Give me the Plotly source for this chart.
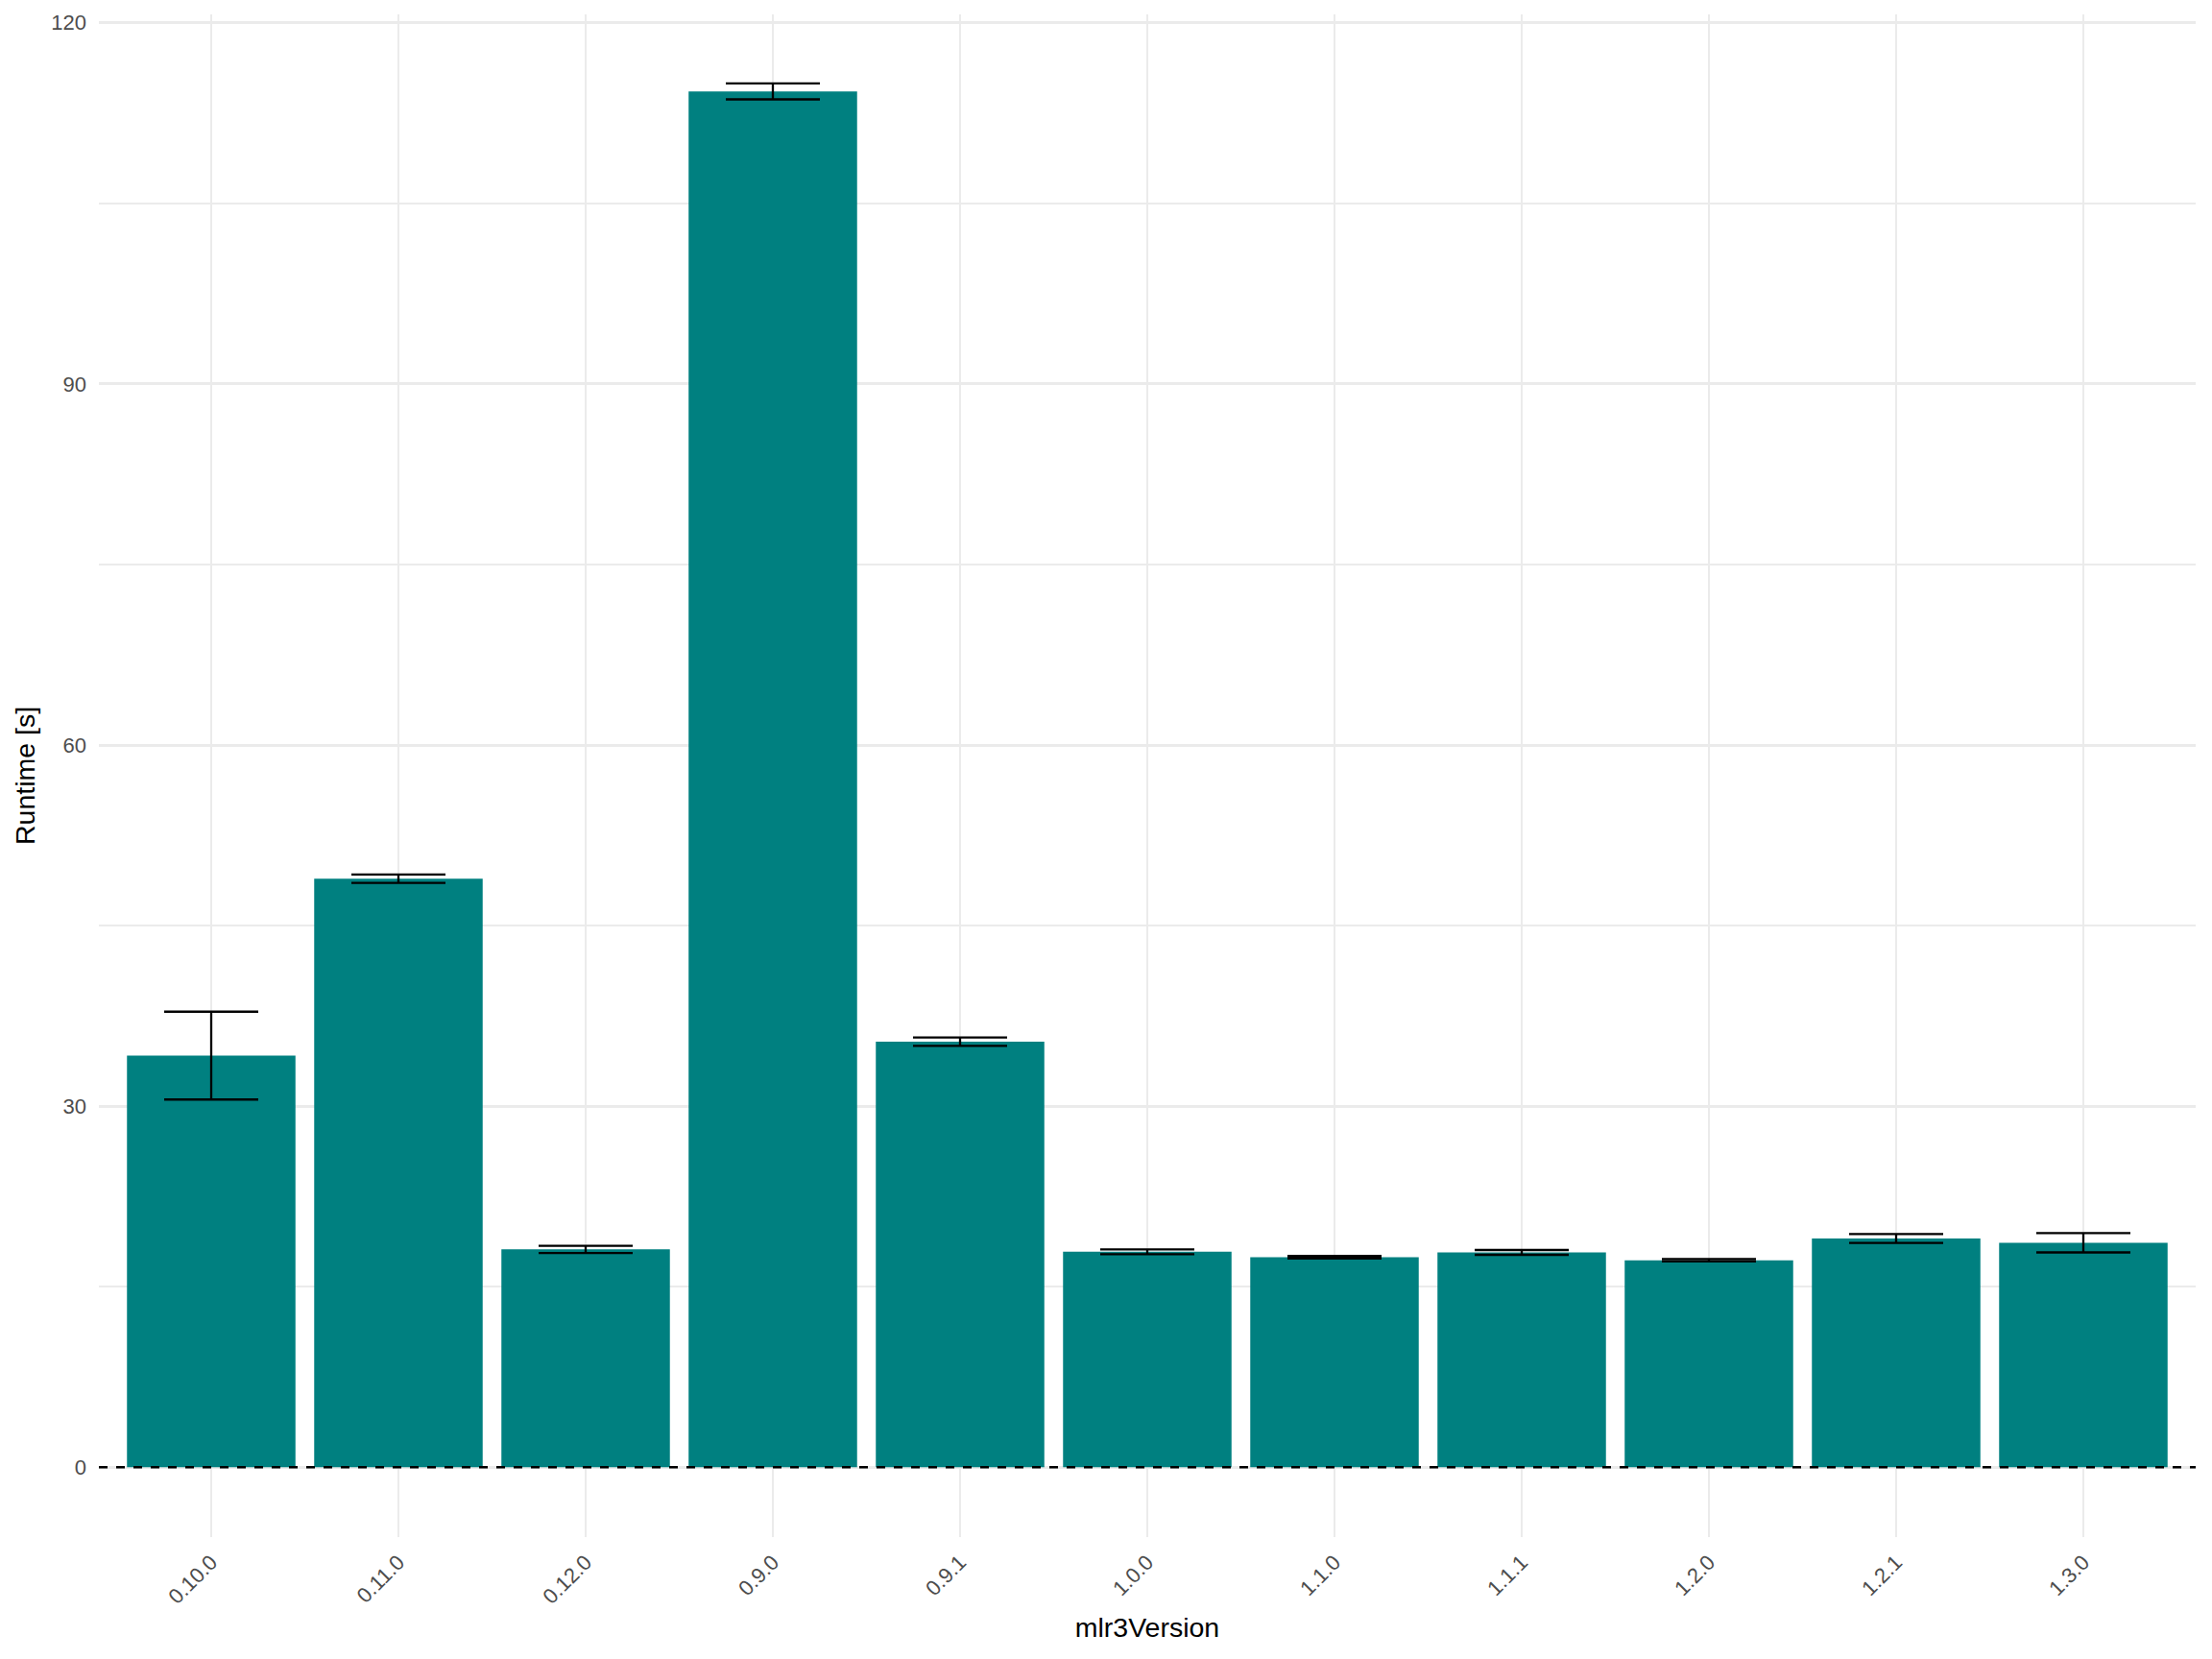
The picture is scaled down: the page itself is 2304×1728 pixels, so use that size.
import plotly.graph_objects as go

versions = ["0.10.0", "0.11.0", "0.12.0", "0.9.0", "0.9.1", "1.0.0",
            "1.1.0", "1.1.1", "1.2.0", "1.2.1", "1.3.0"]
runtime_mean = [34.2, 48.9, 18.1, 114.3, 35.35, 17.9, 17.45, 17.85, 17.2, 19.0, 18.65]
runtime_err = [3.65, 0.35, 0.3, 0.66, 0.35, 0.2, 0.1, 0.2, 0.1, 0.37, 0.8]

y_ticks = [0, 30, 60, 90, 120]

FONT = "Liberation Sans, Arial, sans-serif"
GRID = "#EBEBEB"
TICK_SIZE = 22
TITLE_SIZE = 28.5

fig = go.Figure()
fig.add_trace(go.Bar(
    x=versions,
    y=runtime_mean,
    marker=dict(color="#008080", line=dict(width=0)),
    error_y=dict(type="data", array=runtime_err, visible=True,
                 color="black", thickness=2.3, width=49),
    showlegend=False,
))

fig.add_shape(type="line", xref="paper", yref="y", x0=0, x1=1, y0=0, y1=0,
              line=dict(color="black", width=2.5, dash="dash"), layer="above")

fig.update_layout(
    width=2304, height=1728,
    paper_bgcolor="white", plot_bgcolor="white",
    margin=dict(l=103, r=17, t=15, b=127),
    bargap=0.1,
    font=dict(family=FONT, color="#4D4D4D", size=TICK_SIZE),
    xaxis=dict(
        type="category",
        range=[-0.6, 10.6],
        automargin=False,
        showgrid=True, gridcolor=GRID, gridwidth=2.3,
        zeroline=False, showline=False,
        tickangle=-45,
        tickfont=dict(family=FONT, size=TICK_SIZE, color="#4D4D4D"),
        ticks="", ticklabelstandoff=8,
        title=dict(text="mlr3Version", font=dict(family=FONT, size=TITLE_SIZE, color="black"), standoff=10),
    ),
    yaxis=dict(
        range=[-5.8, 120.7],
        tickvals=y_ticks,
        automargin=False,
        showgrid=True, gridcolor=GRID, gridwidth=2.7,
        minor=dict(tick0=0, dtick=15, showgrid=True, gridcolor=GRID, gridwidth=1.8, ticks=""),
        zeroline=False, showline=False,
        tickfont=dict(family=FONT, size=TICK_SIZE, color="#4D4D4D"),
        ticks="", ticklabelstandoff=12,
        title=dict(text="Runtime [s]", font=dict(family=FONT, size=TITLE_SIZE, color="black"), standoff=8),
    ),
)

fig.write_html("out.html", config={"displayModeBar": False},
               post_script="document.body.style.margin='0';")
